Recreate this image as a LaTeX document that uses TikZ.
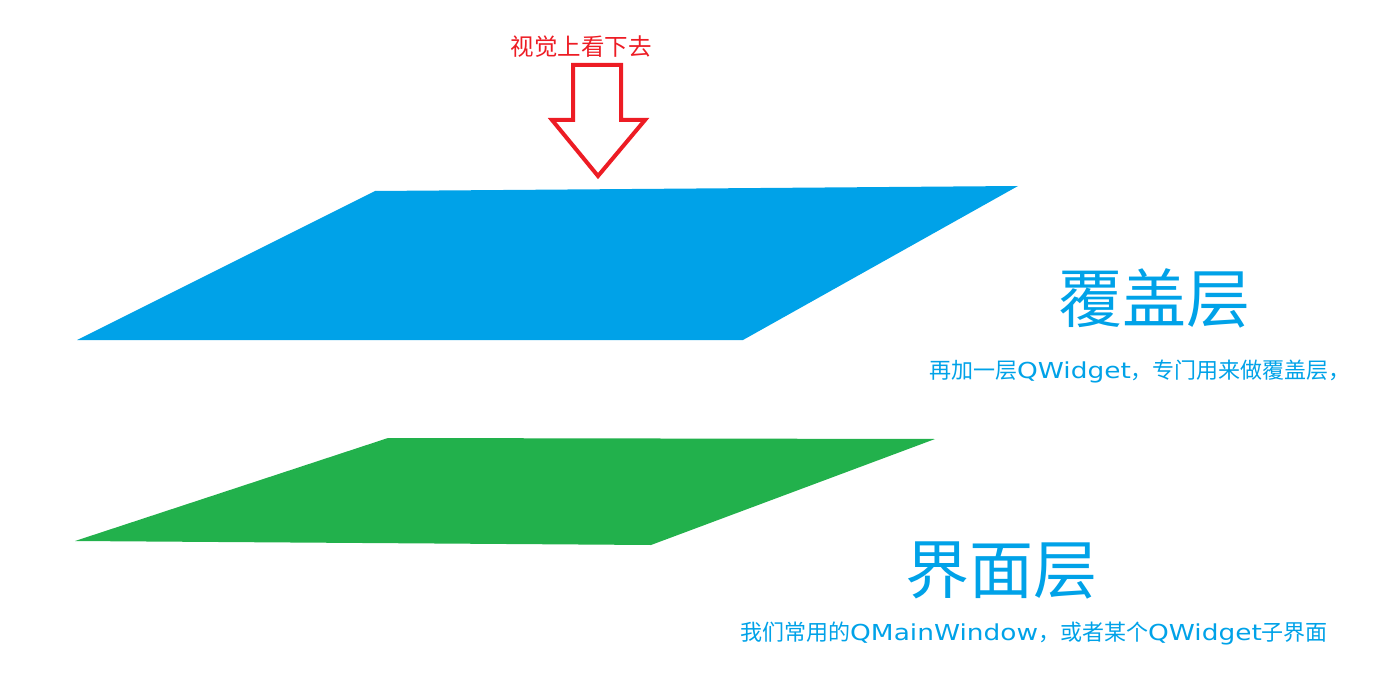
\documentclass[tikz,border=0pt]{standalone}
\usepackage{fontspec}
\setmainfont{Noto Sans CJK SC}
\newfontfamily\latwide{DejaVu Sans}[FakeStretch=1.2]
\newcommand{\lat}[1]{{\latwide #1}}
\usepackage{xcolor}
\definecolor{layerblue}{HTML}{00A2E8}
\definecolor{layergreen}{HTML}{22B14C}
\definecolor{viewred}{HTML}{ED1C24}

\begin{document}
\begin{tikzpicture}[x=1pt,y=-1pt,
  title/.style={text=layerblue,inner sep=0pt,font=\fontsize{64}{70}\selectfont},
  note/.style={text=layerblue,inner sep=0pt,font=\fontsize{22}{26}\selectfont}]
\useasboundingbox (0,0) rectangle (1396,700);

  % the two layers
  \fill[layerblue]  (77,340) -- (375,191) -- (1018,186) -- (743,340) -- cycle;
  \fill[layergreen] (75,541) -- (388,438) -- (935,439) -- (651,545) -- cycle;

  % viewing direction
  \draw[viewred,line width=4pt,fill=white,line join=miter]
    (573,65) -- (621,65) -- (621,120) -- (645,120) -- (598,176)
    -- (552,120) -- (573,120) -- cycle;
  \node[text=viewred,inner sep=0pt,font=\fontsize{23.5}{26}\selectfont]
    (V) at (581,47) {视觉上看下去};

  \node[title] (C)  at (1154,298) {覆盖层};
  \node[note]  (CN) at (1140,372) {再加一层\lat{QWidget}，专门用来做覆盖层，};
  \node[title] (M)  at (1001,570) {界面层};
  \node[note]  (MN) at (1034,633) {我们常用的\lat{QMainWindow}，或者某个\lat{QWidget}子界面};
\end{tikzpicture}
\end{document}
